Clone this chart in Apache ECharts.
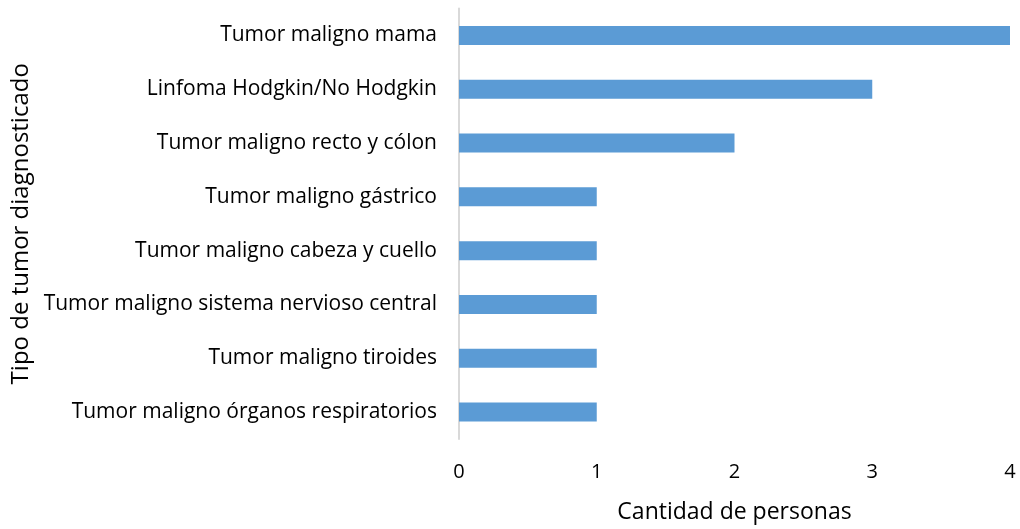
<!DOCTYPE html>
<html><head><meta charset="utf-8">
<script src="https://cdn.jsdelivr.net/npm/echarts@6/dist/echarts.min.js"></script>
<style>html,body{margin:0;padding:0;background:#fff}#c{width:1020px;height:529px}</style>
</head><body><div id="c"></div>
<script>
const categories = [
  "Tumor maligno mama",
  "Linfoma Hodgkin/No Hodgkin",
  "Tumor maligno recto y cólon",
  "Tumor maligno gástrico",
  "Tumor maligno cabeza y cuello",
  "Tumor maligno sistema nervioso central",
  "Tumor maligno tiroides",
  "Tumor maligno órganos respiratorios"
];
const values = [4, 3, 2, 1, 1, 1, 1, 1];
const xTicks = [0, 1, 2, 3, 4];
const FONT = "Open Sans";
const chart = echarts.init(document.getElementById('c'), null, {renderer: 'canvas'});
chart.setOption({
  animation: false,
  grid: {left: 459, right: 10, top: 8.5, bottom: 86.5, containLabel: false},
  xAxis: {
    type: 'value', min: xTicks[0], max: xTicks[xTicks.length - 1], interval: 1,
    name: 'Cantidad de personas', nameLocation: 'middle', nameGap: 62,
    nameTextStyle: {fontFamily: FONT, fontSize: 23, color: '#000'},
    axisLine: {show: false}, axisTick: {show: false}, splitLine: {show: false},
    axisLabel: {fontFamily: FONT, fontSize: 20, color: '#000', margin: 23}
  },
  yAxis: {
    type: 'category', data: categories, inverse: true,
    name: 'Tipo de tumor diagnosticado', nameLocation: 'middle', nameRotate: 90, nameGap: 424,
    nameTextStyle: {fontFamily: FONT, fontSize: 24, color: '#000'},
    axisLine: {show: true, lineStyle: {color: '#d9d9d9', width: 2}},
    axisTick: {show: false},
    axisLabel: {fontFamily: FONT, fontSize: 21, color: '#000', margin: 22, padding: [6, 0, 0, 0]}
  },
  series: [{
    type: 'bar', data: values, barWidth: 19,
    itemStyle: {color: '#5B9BD5'}
  }]
});
</script></body></html>
